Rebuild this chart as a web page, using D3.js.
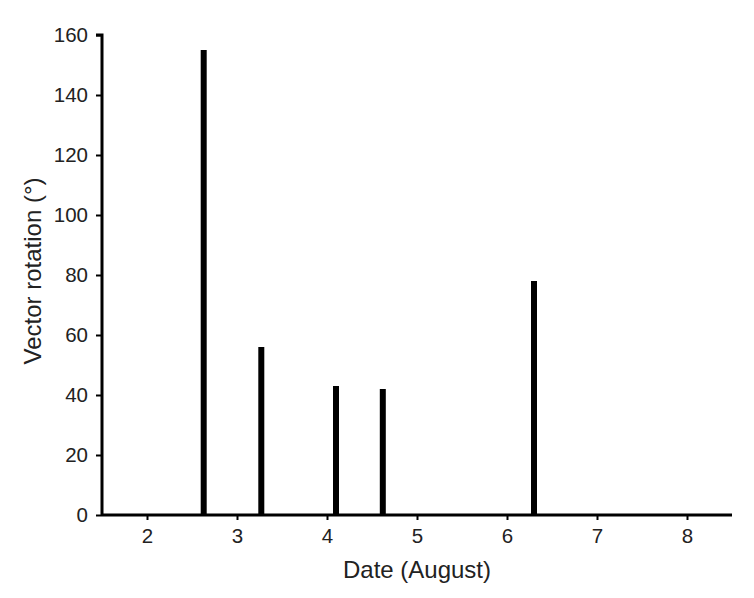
<!DOCTYPE html>
<html><head><meta charset="utf-8">
<script src="https://cdn.jsdelivr.net/npm/d3@7"></script>
<style>body{margin:0;background:#fff}svg{display:block}text{font-family:"Liberation Sans",Arial,sans-serif}</style>
</head><body>
<script>
const dates = [2.63, 3.27, 4.1, 4.62, 6.3];
const rotation = [155, 56, 43, 42, 78];
const xTicks = [2, 3, 4, 5, 6, 7, 8];
const yTicks = [0, 20, 40, 60, 80, 100, 120, 140, 160];

const W = 754, H = 598;
const svg = d3.select("body").append("svg").attr("width", W).attr("height", H);
const x = d3.scaleLinear().domain([1.5, 8.5]).range([102, 732]);
const y = d3.scaleLinear().domain([0, 160]).range([515, 35]);

svg.selectAll("rect.bar").data(dates).enter().append("rect")
  .attr("class","bar")
  .attr("x", d => x(d) - 3)
  .attr("width", 6)
  .attr("y", (d,i) => y(rotation[i]))
  .attr("height", (d,i) => y(0) - y(rotation[i]))
  .attr("fill", "#000");

const xAxis = svg.append("g").attr("transform", `translate(0,${y(0)})`)
  .call(d3.axisBottom(x).tickValues(xTicks).tickSize(5).tickPadding(8).tickFormat(d3.format("d")));
const yAxis = svg.append("g").attr("transform", `translate(${x.range()[0]},0)`)
  .call(d3.axisLeft(y).tickValues(yTicks).tickSize(6).tickPadding(8).tickFormat(d3.format("d")));

[xAxis, yAxis].forEach(g => {
  g.select(".domain").attr("stroke", "#000").attr("stroke-width", 3);
  g.selectAll(".tick line").attr("stroke", "#000").attr("stroke-width", 2);
  g.selectAll(".tick text").attr("fill", "#222").style("font-size", "20.5px").style("font-family", '"Liberation Sans",Arial,sans-serif');
});
xAxis.select(".domain").attr("d", `M${x.range()[0]},0H${x.range()[1]}`);
yAxis.select(".domain").attr("d", `M0,${y.range()[0]}V${y.range()[1]}H-6`);

svg.append("text").attr("x", 417).attr("y", 578).attr("text-anchor","middle")
  .attr("fill","#222").style("font-size","24px").text("Date (August)");
svg.append("text").attr("transform","translate(41,271) rotate(-90)").attr("text-anchor","middle")
  .attr("fill","#222").style("font-size","24px").text("Vector rotation (°)");
</script>
</body></html>
